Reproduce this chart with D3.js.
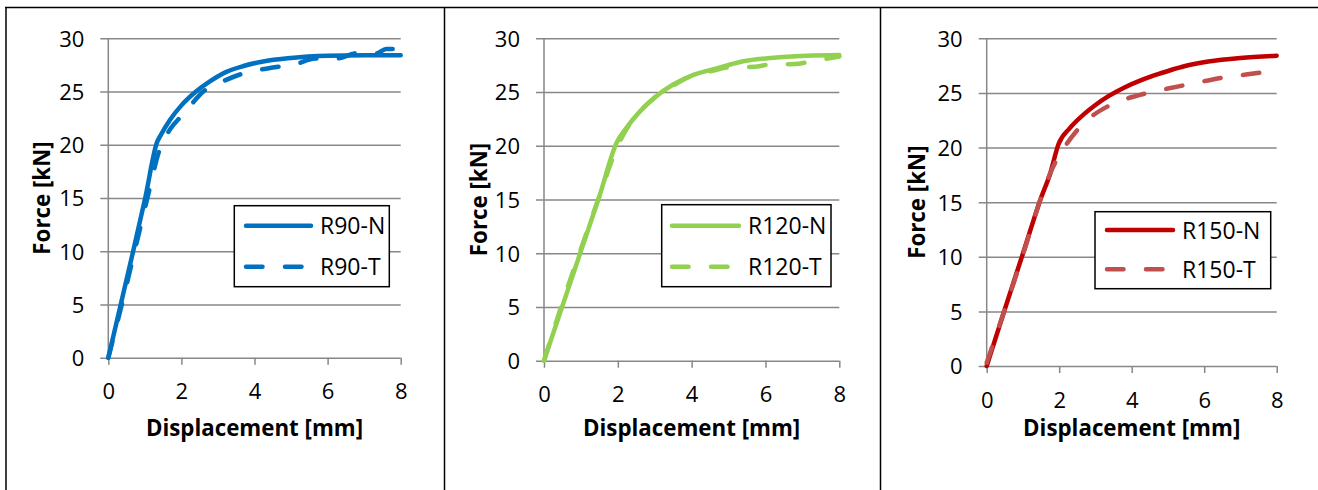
<!DOCTYPE html>
<html>
<head>
<meta charset="utf-8">
<script src="https://cdn.jsdelivr.net/npm/d3@7"></script>
<style>
  body { margin: 0; background: #fff; }
  svg { display: block; font-family: "Open Sans", sans-serif; }
  .grid line { stroke: #878787; stroke-width: 1.5; }
  .axis line { stroke: #878787; stroke-width: 1.5; }
  .title { font-family: "Open Sans", sans-serif; font-size: 22.3px; font-weight: bold; fill: #000; }
  .legend text { font-family: "Open Sans", sans-serif; font-size: 23px; fill: #000; }
  .curve { fill: none; stroke-width: 4.5; stroke-linecap: round; stroke-linejoin: round; }
</style>
</head>
<body>
<div id="chart"></div>
<script>
// Axis ticks and titles
const xTicks = [0, 2, 4, 6, 8];
const yTicks = [0, 5, 10, 15, 20, 25, 30];
const xTitle = "Displacement [mm]";
const yTitle = "Force [kN]";

// Series names per panel
const seriesNames = [["R90-N", "R90-T"], ["R120-N", "R120-T"], ["R150-N", "R150-T"]];

// [displacement mm, force kN]
const r90N = [[0,0],[0.34,5],[0.68,10],[1.01,15],[1.33,20.2],[1.45,21.0],[1.7,22.4],[2.0,23.7],[2.4,25.0],[2.8,26.0],[3.2,26.8],[3.7,27.4],[4.2,27.8],[5.0,28.15],[6.0,28.35],[7.0,28.4],[8.0,28.4]];
const r90T = [[0,0],[0.37,5],[0.72,10],[1.07,15],[1.4,19.5],[1.7,21.5],[2.0,22.7],[2.25,23.7],[2.6,25.0],[3.1,25.9],[3.6,26.6],[4.6,27.3],[5.15,27.6],[5.66,28.1],[6.25,28.1],[6.8,28.6],[7.34,28.6],[7.6,29.0],[7.84,29.0],[8.0,28.5]];
const r120N = [[0,0],[0.5,5.1],[1.0,10.2],[1.5,15.3],[1.97,20.3],[2.24,21.7],[2.6,23.2],[3.0,24.5],[3.5,25.7],[4.05,26.6],[4.68,27.2],[5.31,27.8],[6.21,28.2],[7.12,28.38],[8.0,28.45]];
const r120T = [[0,0],[0.5,5.4],[1.0,10.4],[1.5,15.3],[2.0,20.0],[2.3,21.9],[2.6,23.2],[3.0,24.5],[3.5,25.6],[4.0,26.5],[4.6,27.0],[5.0,27.3],[5.7,27.35],[6.1,27.55],[6.8,27.6],[7.3,27.9],[8.0,28.3]];
const r150N = [[0,0],[0.5,5.2],[1.0,10.3],[1.5,15.4],[1.75,17.6],[1.98,20.3],[2.3,21.8],[2.7,23.1],[3.0,23.9],[3.36,24.7],[3.8,25.5],[4.28,26.2],[4.8,26.8],[5.4,27.4],[6.11,27.87],[7.0,28.2],[8.0,28.4]];
const r150T = [[0,0.3],[0.4,4.2],[1.0,10.2],[1.5,15.4],[1.8,18.0],[2.2,20.3],[2.5,21.6],[2.8,22.6],[3.3,23.7],[3.8,24.4],[4.2,24.8],[5.0,25.4],[5.75,25.9],[6.5,26.4],[7.2,26.7],[8.0,27.05]];

const seriesData = [[r90N, r90T], [r120N, r120T], [r150N, r150T]];
const seriesColors = [["#0070C0", "#0070C0"], ["#92D050", "#92D050"], ["#C00000", "#C0504D"]];

// Layout of the three panels
let panels = [
  { left: 108.3, right: 400.7, top: 38.3, bottom: 357.7, yTitleX: 42.5,
    legend: { x: 234.3, y: 205.7, w: 155, h: 81, rows: [225.7, 266.7], x1: 246, x2: 311, tx: 320 } },
  { left: 544, right: 839.3, top: 38.3, bottom: 360.7, yTitleX: 479.5,
    legend: { x: 661.7, y: 204.7, w: 169.3, h: 82, rows: [225.7, 266.7], x1: 672, x2: 739, tx: 748 } },
  { left: 986.7, right: 1276.7, top: 38.3, bottom: 366, yTitleX: 917.5,
    legend: { x: 1095, y: 211.7, w: 175.7, h: 77, rows: [230, 269.3], x1: 1107, x2: 1173, tx: 1182 } }
];

let svg = d3.select("#chart")
  .append("svg")
  .attr("width", 1318)
  .attr("height", 490);

// Table borders
let borders = svg.append("g").attr("stroke", "#000").attr("stroke-width", 1.5);
borders.append("line").attr("x1", 5).attr("x2", 1318).attr("y1", 7.5).attr("y2", 7.5);
[6, 444.5, 880.5].forEach(bx => {
  borders.append("line").attr("x1", bx).attr("x2", bx).attr("y1", 7).attr("y2", 490);
});

// tick label font, set straight on the axis groups
function styleTicks(sel) {
  sel.attr("font-family", "'Open Sans', sans-serif").attr("font-size", 22);
  sel.selectAll("text").style("font-size", "22px").attr("fill", "#000");
}

panels.forEach((p, i) => {
  let x = d3.scaleLinear().domain([0, 8]).range([p.left, p.right]);
  let y = d3.scaleLinear().domain([0, 30]).range([p.bottom, p.top]);
  let g = svg.append("g");

  // Gridlines and y labels
  let yAxis = d3.axisLeft(y)
    .tickValues(yTicks)
    .tickSizeInner(-(p.right - p.left + 8))
    .tickSizeOuter(0)
    .tickPadding(16);
  let yAxisEl = g.append("g")
    .attr("class", "axis grid")
    .attr("transform", "translate(" + (p.left - 8) + ",0)")
    .call(yAxis);
  yAxisEl.select(".domain").remove();
  yAxisEl.selectAll("text").attr("dy", "0.36em");
  styleTicks(yAxisEl);

  // x ticks and labels
  let xAxis = d3.axisBottom(x)
    .tickValues(xTicks)
    .tickSize(7)
    .tickPadding(19)
    .tickFormat(d3.format("d"));
  let xAxisEl = g.append("g")
    .attr("class", "axis")
    .attr("transform", "translate(0," + p.bottom + ")")
    .call(xAxis);
  xAxisEl.select(".domain").remove();
  styleTicks(xAxisEl);

  // vertical axis line
  g.append("line")
    .attr("x1", p.left).attr("x2", p.left)
    .attr("y1", p.top).attr("y2", p.bottom)
    .attr("stroke", "#878787").attr("stroke-width", 1.5);

  // Titles
  g.append("text")
    .attr("class", "title")
    .attr("x", (p.left + p.right) / 2)
    .attr("y", 436)
    .attr("text-anchor", "middle")
    .text(xTitle);

  g.append("text")
    .attr("class", "title")
    .attr("transform", "translate(" + p.yTitleX + "," + (p.top + p.bottom) / 2 + ") rotate(-90)")
    .attr("text-anchor", "middle")
    .attr("dy", "0.35em")
    .text(yTitle);

  // Curves
  let line = d3.line()
    .x(d => x(d[0]))
    .y(d => y(d[1]))
    .curve(d3.curveMonotoneX);

  seriesData[i].forEach((data, j) => {
    g.append("path")
      .attr("class", "curve")
      .attr("d", line(data))
      .attr("stroke", seriesColors[i][j])
      .attr("stroke-dasharray", j === 1 ? "16.5,22.5" : null);
  });

  // Legend
  let lg = g.append("g").attr("class", "legend");
  lg.append("rect")
    .attr("x", p.legend.x).attr("y", p.legend.y)
    .attr("width", p.legend.w).attr("height", p.legend.h)
    .attr("fill", "#fff").attr("stroke", "#000").attr("stroke-width", 1.5);

  seriesNames[i].forEach((name, j) => {
    let ry = p.legend.rows[j];
    lg.append("line")
      .attr("class", "curve")
      .attr("x1", p.legend.x1).attr("x2", p.legend.x2)
      .attr("y1", ry).attr("y2", ry)
      .attr("stroke", seriesColors[i][j])
      .attr("stroke-dasharray", j === 1 ? "16.5,22.5" : null);
    lg.append("text")
      .attr("x", p.legend.tx)
      .attr("y", ry + 8.5)
      .text(name);
  });
});
</script>
</body>
</html>
